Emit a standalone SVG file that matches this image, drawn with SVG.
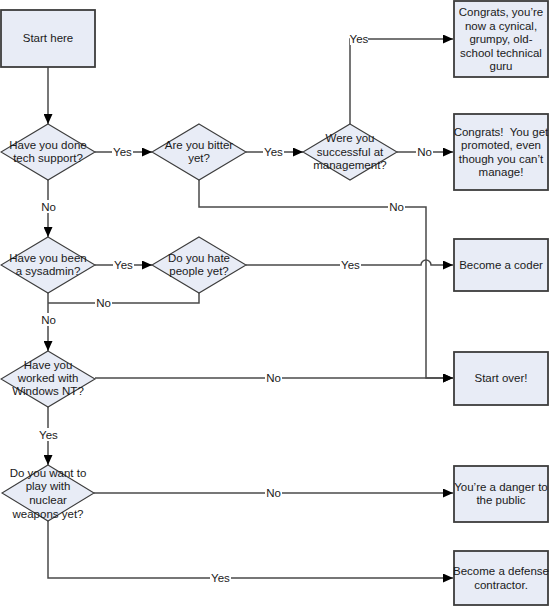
<svg xmlns="http://www.w3.org/2000/svg" width="549" height="606" viewBox="0 0 549 606">
<style>
.box{fill:#E8ECF6;stroke:#3c3c3c;stroke-width:1.8}
.dia{fill:#E8ECF6;stroke:#3c3c3c;stroke-width:1.1}
.t{font-family:"Liberation Sans",Arial,sans-serif;font-size:11.5px;fill:#1a1a1a;text-anchor:middle}
.c{fill:none;stroke:#4a4a4a;stroke-width:1.5}
.a{marker-end:url(#ah)}
.lb{fill:#ffffff}
</style>
<defs>
<marker id="ah" markerUnits="userSpaceOnUse" markerWidth="10" markerHeight="9" refX="10" refY="4.5" orient="auto">
<path d="M0,0 L10,4.5 L0,9 z" fill="#000"/>
</marker>
</defs>
<rect width="549" height="606" fill="#fff"/>
<g id="connectors">
<path class="c a" d="M48,67 V124"/>
<path class="c a" d="M95,152 H152"/>
<path class="c a" d="M246,152 H303"/>
<path class="c a" d="M350,124 V39 H453"/>
<path class="c a" d="M397,152 H453"/>
<path class="c a" d="M48,180 V237"/>
<path class="c a" d="M199,180 V207 H426 V378 H453"/>
<path class="c a" d="M95,265 H152"/>
<path class="c a" d="M246,265 H421 A5,5 0 0 1 431,265 H453"/>
<path class="c" d="M199,293 V303 H48"/>
<path class="c a" d="M48,293 V351"/>
<path class="c a" d="M95,378 H453"/>
<path class="c a" d="M48,407 V465"/>
<path class="c a" d="M94,493 H453"/>
<path class="c a" d="M48,521 V578 H453"/>
<g id="labels">
<rect class="lb" x="112" y="145" width="21" height="13"/><text class="t" x="122.5" y="156">Yes</text>
<rect class="lb" x="263" y="145" width="21" height="13"/><text class="t" x="273.5" y="156">Yes</text>
<rect class="lb" x="350" y="32" width="18" height="13"/><text class="t" x="359" y="43">Yes</text>
<rect class="lb" x="416" y="145" width="17" height="13"/><text class="t" x="424.5" y="156">No</text>
<rect class="lb" x="40" y="200" width="17" height="13"/><text class="t" x="48.5" y="211">No</text>
<rect class="lb" x="388" y="200" width="17" height="13"/><text class="t" x="396.5" y="211">No</text>
<rect class="lb" x="113" y="258" width="21" height="13"/><text class="t" x="123.5" y="269">Yes</text>
<rect class="lb" x="340" y="258" width="21" height="13"/><text class="t" x="350.5" y="269">Yes</text>
<rect class="lb" x="95" y="296" width="17" height="13"/><text class="t" x="103.5" y="307">No</text>
<rect class="lb" x="40" y="313" width="17" height="13"/><text class="t" x="48.5" y="324">No</text>
<rect class="lb" x="265" y="371" width="17" height="13"/><text class="t" x="273.5" y="382">No</text>
<rect class="lb" x="38" y="428" width="21" height="13"/><text class="t" x="48.5" y="439">Yes</text>
<rect class="lb" x="265" y="486" width="17" height="13"/><text class="t" x="273.5" y="497">No</text>
<rect class="lb" x="210" y="571" width="21" height="13"/><text class="t" x="220.5" y="582">Yes</text>
</g>
</g>
<g id="start">
<rect class="box" x="1" y="10" width="94" height="57"/>
<text class="t" x="48" y="42">Start here</text>
</g>
<g id="tech">
<polygon class="dia" points="48,124 95,152 48,180 1,152"/>
<text class="t" x="48" y="149">Have you done</text>
<text class="t" x="48" y="162">tech support?</text>
</g>
<g id="bitter">
<polygon class="dia" points="199,124 246,152 199,180 152,152"/>
<text class="t" x="199" y="149">Are you bitter</text>
<text class="t" x="199" y="162">yet?</text>
</g>
<g id="mgmt">
<polygon class="dia" points="350,124 397,152 350,180 303,152"/>
<text class="t" x="350" y="142">Were you</text>
<text class="t" x="350" y="156">successful at</text>
<text class="t" x="350" y="169">management?</text>
</g>
<g id="guru">
<rect class="box" x="454" y="1" width="94" height="76"/>
<text class="t" x="501" y="16">Congrats, you’re</text>
<text class="t" x="501" y="29.5">now a cynical,</text>
<text class="t" x="501" y="43">grumpy, old-</text>
<text class="t" x="501" y="56.5">school technical</text>
<text class="t" x="501" y="70">guru</text>
</g>
<g id="promoted">
<rect class="box" x="454" y="114" width="94" height="76"/>
<text class="t" x="501" y="135.5">Congrats!&#160; You get</text>
<text class="t" x="501" y="149">promoted, even</text>
<text class="t" x="501" y="162.5">though you can’t</text>
<text class="t" x="501" y="176">manage!</text>
</g>
<g id="sysadmin">
<polygon class="dia" points="48,237 95,265 48,293 1,265"/>
<text class="t" x="48" y="262">Have you been</text>
<text class="t" x="48" y="275">a sysadmin?</text>
</g>
<g id="hate">
<polygon class="dia" points="199,237 246,265 199,293 152,265"/>
<text class="t" x="199" y="262">Do you hate</text>
<text class="t" x="199" y="275">people yet?</text>
</g>
<g id="coder">
<rect class="box" x="454" y="239" width="94" height="52"/>
<text class="t" x="501" y="269">Become a coder</text>
</g>
<g id="nt">
<polygon class="dia" points="48,351 95,379 48,407 1,379"/>
<text class="t" x="48" y="369">Have you</text>
<text class="t" x="48" y="382">worked with</text>
<text class="t" x="48" y="395">Windows NT?</text>
</g>
<g id="startover">
<rect class="box" x="454" y="352" width="94" height="53"/>
<text class="t" x="501" y="382">Start over!</text>
</g>
<g id="nuclear">
<polygon class="dia" points="48,465 94,493 48,521 2,493"/>
<text class="t" x="48" y="477">Do you want to</text>
<text class="t" x="48" y="490">play with</text>
<text class="t" x="48" y="504">nuclear</text>
<text class="t" x="48" y="518">weapons yet?</text>
</g>
<g id="danger">
<rect class="box" x="454" y="466" width="94" height="56"/>
<text class="t" x="501" y="491">You’re a danger to</text>
<text class="t" x="501" y="504">the public</text>
</g>
<g id="defense">
<rect class="box" x="454" y="551" width="94" height="54"/>
<text class="t" x="501" y="575">Become a defense</text>
<text class="t" x="501" y="589">contractor.</text>
</g>
</svg>
